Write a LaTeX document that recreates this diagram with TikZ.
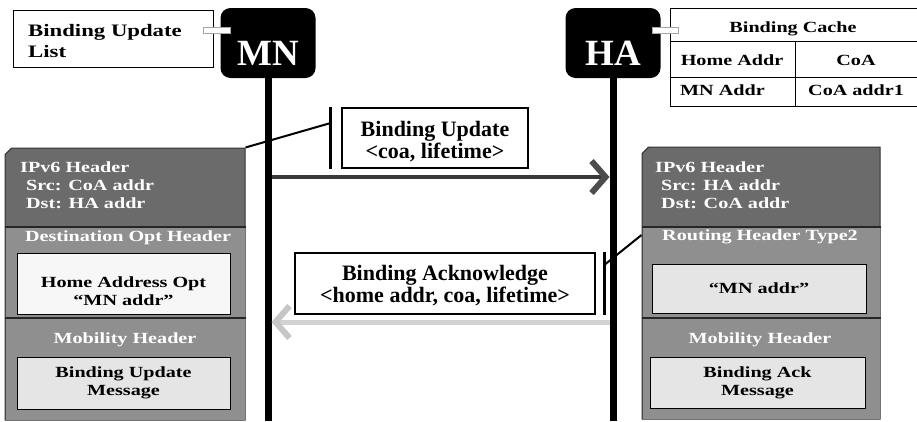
\documentclass[tikz,border=0pt]{standalone}
\usepackage{fontspec}
\setmainfont{Liberation Serif}
\newfontfamily\widefont[FakeStretch=1.3]{Liberation Serif}
\usetikzlibrary{positioning,arrows.meta,shapes.misc}

\definecolor{pktdark}{gray}{0.42}
\definecolor{pktmid}{gray}{0.56}
\definecolor{pktlight}{gray}{0.9}

\tikzset{
  host/.style={fill=black, text=white, rounded corners=10pt, minimum width=95pt,
    minimum height=70pt, text height=44pt, text depth=0pt,
    font=\bfseries\fontsize{37}{40}\selectfont},
  life/.style={line width=7pt},
  tab/.style={fill=white, draw=gray!70, line width=1pt},
  wide/.style={font=\widefont\bfseries\fontsize{15.5}{18}\selectfont, inner sep=0pt},
  msg/.style={draw, line width=2.5pt, fill=white, align=center,
    font=\bfseries\fontsize{22}{22}\selectfont},
  msgtxt/.style={align=center, font=\bfseries\fontsize{22}{22}\selectfont, inner sep=0pt},
  bar/.style={line width=3pt},
  callout/.style={line width=2pt},
  pkt/.style={chamfered rectangle, chamfered rectangle corners=north west,
    chamfered rectangle xsep=7pt, chamfered rectangle ysep=7pt,
    fill=pktdark, draw=gray!40!black, line width=1pt,
    minimum width=240pt, minimum height=272pt},
  pktsep/.style={draw=gray!30!black, line width=1.5pt},
  inbox/.style={draw=black, line width=1pt, fill=pktlight},
  hdr/.style={wide, text=white, align=left},
  updarrow/.style={draw=gray!45!black, line width=3.5pt, shorten <=3.5pt, shorten >=3.5pt,
    -{Straight Barb[length=14pt,width=32pt,line width=6pt,color=gray!60!black]}},
  ackarrow/.style={draw=gray!35, line width=5pt, shorten <=3.5pt, shorten >=3.5pt,
    -{Straight Barb[length=14pt,width=32pt,line width=6pt,color=gray!45]}}
}

\begin{document}
\begin{tikzpicture}[x=1pt, y=-1pt]
  \useasboundingbox (0,0) rectangle (917,421);

  % hosts and lifelines
  \node[host] (mn) at (268,43) {MN};
  \node[host] (ha) at (613,43) {HA};
  \coordinate (mnend) at (268,421);
  \coordinate (haend) at (613,421);
  \draw[life] (mn.south) -- (mnend);
  \draw[life] (ha.south) -- (haend);

  % binding update list
  \node[draw, line width=0.8pt, minimum width=200pt, minimum height=57pt, anchor=north west] (listbox) at (13,10) {};
  \node[wide, font=\widefont\bfseries\fontsize{17.5}{21}\selectfont, align=left, anchor=north west] (listtxt) at (28,24) {Binding Update\\List};
  \draw[tab] ([xshift=-10pt]listbox.east |- 0,27) rectangle ([xshift=10pt]mn.west |- 0,33);

  % binding cache
  \node[draw, line width=0.8pt, minimum width=250pt, minimum height=98pt, anchor=north west] (cache) at (670,8) {};
  \draw[line width=0.8pt] (cache.west |- 0,41) -- (cache.east |- 0,41);
  \draw[line width=0.8pt] (cache.west |- 0,77) -- (cache.east |- 0,77);
  \draw[line width=0.8pt] (795,41) -- (cache.south -| 795,0);
  \node[wide, anchor=base] (cachettl) at (793,32) {Binding Cache};
  \node[wide, anchor=base] (colhome) at (732,65) {Home Addr};
  \node[wide, anchor=base] (colcoa) at (856,65) {CoA};
  \node[wide, anchor=base west] (rowmn) at (680,95) {MN Addr};
  \node[wide, anchor=base west] (rowcoa) at (808,95) {CoA addr1};
  \draw[tab] ([xshift=-8pt]ha.east |- 0,27) rectangle ([xshift=8pt]cache.west |- 0,33);

  % packet sent by MN
  \node[pkt] (pktbu) at (125,284) {};
  \fill[pktmid] ([xshift=1pt]pktbu.west |- 0,227) rectangle ([xshift=-1pt,yshift=1pt]pktbu.south east);
  \draw[pktsep] (pktbu.west |- 0,227) -- (pktbu.east |- 0,227);
  \draw[pktsep] (pktbu.west |- 0,318) -- (pktbu.east |- 0,318);
  \node[hdr, anchor=north west] (ipbu) at (20,162) {IPv6 Header\\\hspace{6pt}Src: CoA addr\\\hspace{6pt}Dst: HA addr};
  \node[hdr] (dstopt) at (128,238) {Destination Opt Header};
  \node[inbox, fill=gray!6, minimum width=213pt, minimum height=61pt] (hao) at (123.5,283.5) {};
  \node[wide, align=center] (haotxt) at ([yshift=-8pt]hao.center) {Home Address Opt\\“MN addr”};
  \node[hdr] (mobbu) at (125,340) {Mobility Header};
  \node[inbox, wide, align=center, minimum width=213pt, minimum height=52pt] (bum) at (123.5,383) {Binding Update\\Message};

  % packet sent by HA
  \node[pkt, minimum width=238pt] (pktba) at (761,283) {};
  \fill[pktmid] ([xshift=1pt]pktba.west |- 0,227) rectangle ([xshift=-1pt,yshift=1pt]pktba.south east);
  \draw[pktsep] (pktba.west |- 0,227) -- (pktba.east |- 0,227);
  \draw[pktsep] (pktba.west |- 0,318) -- (pktba.east |- 0,318);
  \node[hdr, anchor=north west] (ipba) at (655,162) {IPv6 Header\\\hspace{6pt}Src: HA addr\\\hspace{6pt}Dst: CoA addr};
  \node[hdr] (rthdr) at (760,237) {Routing Header Type2};
  \node[inbox, wide, minimum width=214pt, minimum height=49pt] (mnaddr) at (759,288.5) {“MN addr”};
  \node[hdr] (mobba) at (760,340) {Mobility Header};
  \node[inbox, wide, align=center, minimum width=215pt, minimum height=51pt] (bam) at (757.5,382.5) {Binding Ack\\Message};

  % messages
  \node[msg, minimum width=186pt, minimum height=60pt] (bu) at (435,138) {};
  \node[msgtxt] (butxt) at ([yshift=-4pt]bu.center) {Binding Update\\<coa, lifetime>};
  \draw[bar] ([xshift=-10pt]bu.north west) -- ([xshift=-10pt]bu.south west);
  \draw[callout] (pktbu.north east) -- ([xshift=-10pt]bu.west |- 0,123);
  \draw[updarrow] (mn |- 0,177) -- (ha |- 0,177);

  \node[msg, minimum width=300pt, minimum height=61pt] (ba) at (445,283.5) {};
  \node[msgtxt] (batxt) at ([yshift=-2pt]ba.center) {Binding Acknowledge\\<home addr, coa, lifetime>};
  \draw[bar] ([xshift=8pt]ba.north east) -- ([xshift=8pt]ba.south east);
  \draw[callout] (pktba.west |- 0,235) -- ([xshift=8pt]ba.east |- 0,265);
  \draw[ackarrow] (ha |- 0,322) -- (mn |- 0,322);
\end{tikzpicture}
\end{document}
